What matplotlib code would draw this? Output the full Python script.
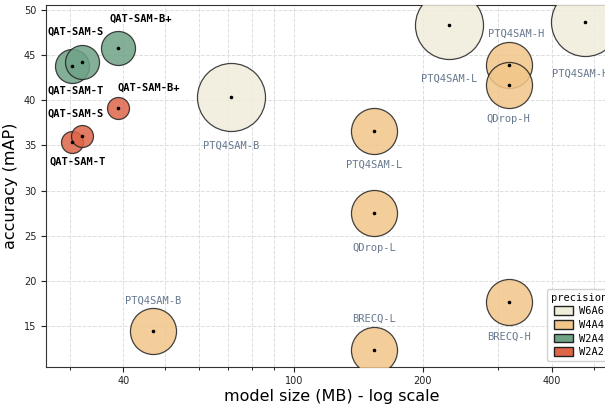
import matplotlib
matplotlib.use("Agg")
import matplotlib.pyplot as plt
from matplotlib.patches import Patch
from matplotlib.ticker import FixedLocator, NullFormatter, FixedFormatter

# model size (MB), accuracy (mAP), precision tag for every quantized model
names = ["PTQ4SAM-B", "PTQ4SAM-L", "PTQ4SAM-H",
         "PTQ4SAM-B", "PTQ4SAM-L", "PTQ4SAM-H",
         "QDrop-L", "QDrop-H", "BRECQ-L", "BRECQ-H",
         "QAT-SAM-T", "QAT-SAM-S", "QAT-SAM-B+",
         "QAT-SAM-T", "QAT-SAM-S", "QAT-SAM-B+"]
size_mb = [71.2, 230.0, 477.6,
           47.0, 154.0, 317.0,
           154.0, 317.0, 154.0, 317.0,
           30.3, 32.0, 38.9,
           30.3, 32.0, 38.8]
acc_map = [40.40, 48.31, 48.67,
           14.45, 36.60, 43.88,
           27.52, 41.69, 12.34, 17.63,
           43.80, 44.27, 45.76,
           35.41, 36.08, 39.18]
precision = ["W6A6", "W6A6", "W6A6",
             "W4A4", "W4A4", "W4A4",
             "W4A4", "W4A4", "W4A4", "W4A4",
             "W2A4", "W2A4", "W2A4",
             "W2A2", "W2A2", "W2A2"]

prec_order = ["W6A6", "W4A4", "W2A4", "W2A2"]
prec_color = {"W6A6": "#f1eddb", "W4A4": "#f2c68a",
              "W2A4": "#6ea386", "W2A2": "#df6549"}
prec_area = {"W6A6": 2400, "W4A4": 1100, "W2A4": 600, "W2A2": 250}

# label placement (pixel offsets from the point)
label_offset = [(0, -49), (0, -53), (-5, -52),
                (0, 30), (0, -34), (7, 32),
                (0, -35), (0, -34), (0, 31), (0, -34),
                (4, -25), (-6, 30), (23, 30),
                (6, -20), (-6, 22), (31, 20)]

fig = plt.figure(figsize=(6.05, 4.04), dpi=100)
ax = fig.add_axes([46 / 605, 37.3 / 404, 571 / 605, 361.7 / 404])

for p in prec_order:
    idx = [i for i, q in enumerate(precision) if q == p]
    ax.scatter([size_mb[i] for i in idx], [acc_map[i] for i in idx],
               s=prec_area[p], c=prec_color[p], alpha=0.85,
               edgecolors="#222222", linewidths=0.9, zorder=3)
ax.scatter(size_mb, acc_map, s=2.5, c="black", zorder=4)

for i, name in enumerate(names):
    qat = name.startswith("QAT")
    ax.annotate(name, (size_mb[i], acc_map[i]), xytext=label_offset[i],
                textcoords="offset pixels", ha="center", va="center",
                family="DejaVu Sans Mono", fontsize=7.5,
                fontweight="bold" if qat else "normal",
                color="black" if qat else "#66788e", zorder=5)

ax.set_xscale("log")
ax.set_xlim(26.4, 567)
ax.set_ylim(10.5, 50.55)
ax.xaxis.set_major_locator(FixedLocator([40, 100, 200, 400]))
ax.xaxis.set_major_formatter(FixedFormatter(["40", "100", "200", "400"]))
ax.xaxis.set_minor_locator(FixedLocator([30, 50, 60, 70, 80, 90, 300, 500]))
ax.xaxis.set_minor_formatter(NullFormatter())
ax.set_yticks([15, 20, 25, 30, 35, 40, 45, 50])
ax.tick_params(labelsize=7, colors="#222222")
ax.grid(True, which="both", axis="x", linestyle="--", color="#dddddd", linewidth=0.7)
ax.grid(True, which="major", axis="y", linestyle="--", color="#dddddd", linewidth=0.7)
ax.set_axisbelow(True)
for sp in ax.spines.values():
    sp.set_color("#333333")

ax.set_xlabel("model size (MB) - log scale", fontsize=11.5, labelpad=2)
ax.set_ylabel("accuracy (mAP)", fontsize=11.5, labelpad=4)

handles = [Patch(facecolor=prec_color[p], edgecolor="#222222", label=p)
           for p in prec_order]
leg = ax.legend(handles=handles, title="precision", loc="lower right",
                prop={"family": "DejaVu Sans Mono", "size": 7.5},
                title_fontproperties={"family": "DejaVu Sans Mono", "size": 7.5},
                handlelength=1.8, handleheight=0.9, labelspacing=0.35,
                handletextpad=0.6, borderpad=0.4, framealpha=0.9,
                edgecolor="#cccccc")

fig.savefig("out.png", dpi=100)
